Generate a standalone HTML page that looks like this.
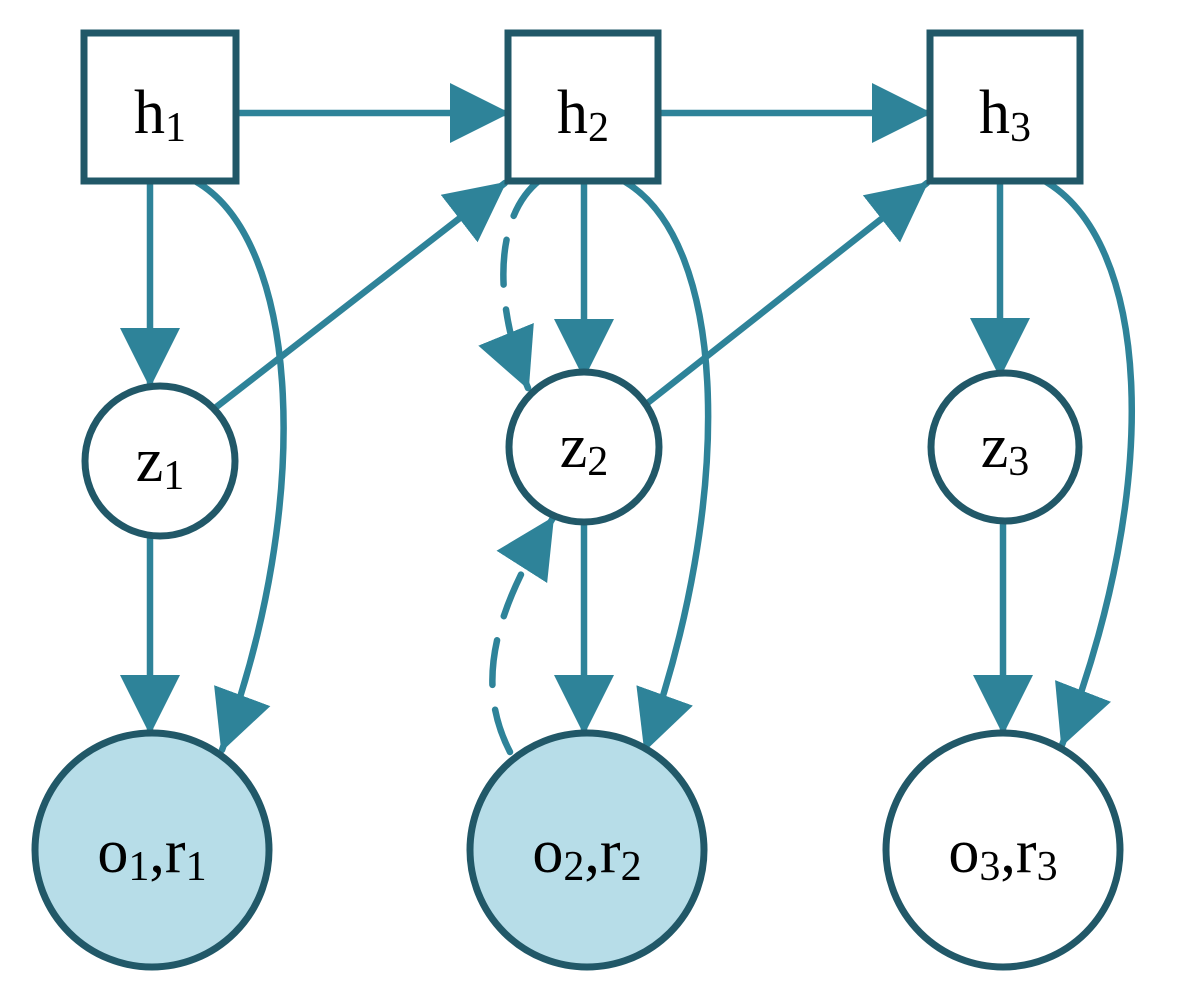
<!DOCTYPE html>
<html><head><style>html,body{margin:0;padding:0;background:#fff}</style></head><body>
<svg width="1177" height="1000" viewBox="0 0 1177 1000" xmlns="http://www.w3.org/2000/svg">
<defs>
<marker id="a" markerUnits="userSpaceOnUse" markerWidth="70" markerHeight="70" refX="58" refY="30" orient="auto">
<path d="M0,0 L60,30 L0,60 z" fill="#2e8399"/>
</marker>
</defs>
<g fill="none" stroke="#2e8399" stroke-width="6.5" stroke-linecap="round">
<line x1="236" y1="113" x2="508" y2="113" marker-end="url(#a)"/>
<line x1="658" y1="113" x2="930" y2="113" marker-end="url(#a)"/>
<line x1="150" y1="181" x2="150" y2="386" marker-end="url(#a)"/>
<line x1="584" y1="181" x2="584" y2="377" marker-end="url(#a)"/>
<line x1="1000" y1="181" x2="1000" y2="376" marker-end="url(#a)"/>
<line x1="215" y1="408" x2="505" y2="183" marker-end="url(#a)"/>
<line x1="645" y1="405" x2="927" y2="183" marker-end="url(#a)"/>
<line x1="150" y1="537" x2="150" y2="733" marker-end="url(#a)"/>
<line x1="584" y1="522" x2="584" y2="733" marker-end="url(#a)"/>
<line x1="1003" y1="522" x2="1003" y2="733" marker-end="url(#a)"/>
<path d="M195,181 C300,240 315,500 222,750" marker-end="url(#a)"/>
<path d="M622,180 C730,240 735,500 645,750" marker-end="url(#a)"/>
<path d="M1043,180 C1150,240 1165,480 1062,745" marker-end="url(#a)"/>
<path d="M540,180 C495,215 492,300 528,388" stroke-dasharray="45,25" marker-end="url(#a)"/>
<path d="M510,752 C478,690 488,620 553,518" stroke-dasharray="45,25" marker-end="url(#a)"/>
</g>
<g stroke="#215868" stroke-width="7" fill="#fff">
<rect x="84" y="33" width="152" height="148"/>
<rect x="508" y="33" width="150" height="148"/>
<rect x="930" y="33" width="150" height="148"/>
<circle cx="160" cy="461" r="75"/>
<circle cx="584" cy="447" r="75"/>
<circle cx="1005" cy="447" r="74"/>
<circle cx="152" cy="850" r="117" fill="#b7dde8"/>
<circle cx="587" cy="850" r="117" fill="#b7dde8"/>
<circle cx="1003" cy="850" r="117"/>
</g>
<g font-family="Liberation Serif, serif" font-size="62" fill="#000" text-anchor="middle">
<text x="160" y="133">h<tspan font-size="42" dy="8">1</tspan></text>
<text x="583" y="133">h<tspan font-size="42" dy="8">2</tspan></text>
<text x="1005" y="133">h<tspan font-size="42" dy="8">3</tspan></text>
<text x="160" y="481">z<tspan font-size="42" dy="8">1</tspan></text>
<text x="584" y="467">z<tspan font-size="42" dy="8">2</tspan></text>
<text x="1005" y="467">z<tspan font-size="42" dy="8">3</tspan></text>
<text x="152" y="872">o<tspan font-size="42" dy="8">1</tspan><tspan dy="-8">,r</tspan><tspan font-size="42" dy="8">1</tspan></text>
<text x="587" y="872">o<tspan font-size="42" dy="8">2</tspan><tspan dy="-8">,r</tspan><tspan font-size="42" dy="8">2</tspan></text>
<text x="1003" y="872">o<tspan font-size="42" dy="8">3</tspan><tspan dy="-8">,r</tspan><tspan font-size="42" dy="8">3</tspan></text>
</g>
</svg>
</body></html>
